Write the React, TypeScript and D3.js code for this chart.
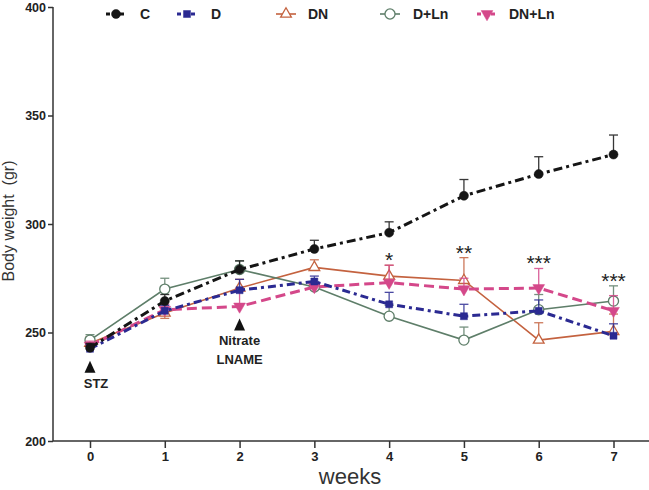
import React, { useEffect, useRef } from 'react';
import * as d3 from 'd3';

const weeks = [0, 1, 2, 3, 4, 5, 6, 7];
const seriesNames = ['C', 'D', 'DN', 'D+Ln', 'DN+Ln'];
const cMean = [243, 264.5, 279, 288.5, 296, 313, 323, 332];
const cErr = [2, 3, 4, 4, 5, 7.5, 8, 9];
const dMean = [242.5, 260, 269.5, 273.5, 263, 257.5, 260, 248.5];
const dErr = [2, 2.5, 5, 2.5, 5.5, 5.5, 5, 5.5];
const dnMean = [245, 259, 270.5, 280, 276, 274, 246.5, 250.5];
const dnErr = [3, -2.5, 4, 3.5, 5, 10.5, 8, 8];
const dlnMean = [246.5, 270, 279, 271, 257.5, 246.5, 260.5, 264.5];
const dlnErr = [2.5, 5, 4, 2, 5, 6, 7, 7];
const dnlnMean = [244, 260.5, 262, 271, 273, 270, 270.5, 260];
const dnlnErr = [2, 2.5, 8, 2, 8, 5, 9, 7];
const starWeeks = [4, 5, 6, 7];
const starLabels = ['*', '**', '***', '***'];
const treatWeeks = [0, 2];
const treatLabels = [['STZ'], ['Nitrate', 'LNAME']];
const yTicks = [200, 250, 300, 350, 400];

const W = 649;
const H = 490;
const FONT = "Arial, 'Liberation Sans', sans-serif";

const means = [cMean, dMean, dnMean, dlnMean, dnlnMean];
const errs = [cErr, dErr, dnErr, dlnErr, dnlnErr];
const colors = ['#151515', '#2b2a92', '#c4623f', '#5e7e69', '#d4488a'];
const widths = [3, 3, 1.6, 1.6, 3];
const dashes = ['9,4,3,4', '8,4,3,4', '', '', '10,5'];
const symbols = [d3.symbolCircle, d3.symbolSquare, d3.symbolTriangle, d3.symbolCircle, d3.symbolTriangle];
const symSizes = [64, 49, 50, 80, 60];
const symRot = [0, 0, 0, 0, 180];
const symFilled = [true, true, false, false, true];
const drawOrder = [2, 3, 4, 1, 0];
const legendSampleX = [116, 187, 286, 390, 487];
const legendTextX = [140, 211, 308, 413, 509];

export default function App() {
  const xRef = useRef<SVGGElement>(null);
  const yRef = useRef<SVGGElement>(null);

  const x = d3.scaleLinear().domain([0, 7]).range([90, 613.5]);
  const y = d3.scaleLinear().domain([200, 400]).range([441, 7]);
  const axisX0 = 53;

  useEffect(() => {
    const gx = d3.select(xRef.current as SVGGElement);
    gx.call(
      d3.axisBottom(x).tickValues(weeks).tickSize(7).tickPadding(4).tickFormat(d3.format('d')) as any
    );
    gx.select('.domain').remove();
    gx.selectAll('line').attr('stroke', '#333').attr('stroke-width', 1.5);
    gx.selectAll('text')
      .attr('font-size', 13)
      .attr('font-weight', 'bold')
      .attr('font-family', FONT)
      .attr('fill', '#222');

    const gy = d3.select(yRef.current as SVGGElement);
    gy.call(d3.axisLeft(y).tickValues(yTicks).tickSize(5).tickPadding(2) as any);
    gy.select('.domain').remove();
    gy.selectAll('line').attr('stroke', '#333').attr('stroke-width', 1.5);
    gy.selectAll('text')
      .attr('font-size', 12.5)
      .attr('font-weight', 'bold')
      .attr('font-family', FONT)
      .attr('fill', '#222');
  }, []);

  const line = (vals: number[]) =>
    d3
      .line<number>()
      .x((_, i) => x(weeks[i]))
      .y((v) => y(v))(vals) as string;

  const markerPath = (si: number) => d3.symbol().type(symbols[si]).size(symSizes[si])() as string;

  const renderMarker = (si: number, cx: number, cy: number, key: string) => (
    <path
      key={key}
      d={markerPath(si)}
      transform={`translate(${cx},${cy}) rotate(${symRot[si]})`}
      fill={symFilled[si] ? colors[si] : 'white'}
      stroke={colors[si]}
      strokeWidth={symFilled[si] ? 0.5 : 1.3}
    />
  );

  return (
    <svg
      width={W}
      height={H}
      style={{ position: 'absolute', left: 0, top: 0, background: 'white' }}
      fontFamily={FONT}
    >
      {/* axes */}
      <line x1={axisX0} x2={W} y1={y(200)} y2={y(200)} stroke="#333" strokeWidth={1.5} />
      <line x1={axisX0} x2={axisX0} y1={y(400)} y2={y(200)} stroke="#333" strokeWidth={1.5} />
      <g ref={xRef} transform={`translate(0,${y(200)})`} />
      <g ref={yRef} transform={`translate(${axisX0},0)`} />

      {/* axis titles */}
      <text x={350} y={484} textAnchor="middle" fontSize={22} fill="#333">
        weeks
      </text>
      <text
        transform={`translate(14,${221}) rotate(-90)`}
        textAnchor="middle"
        fontSize={16}
        fill="#333"
        style={{ whiteSpace: 'pre' }}
      >
        {'Body weight  (gr)'}
      </text>

      {/* series */}
      {drawOrder.map((si) => (
        <g key={seriesNames[si]}>
          {means[si].map((v, i) => {
            const e = errs[si][i];
            const cx = x(weeks[i]);
            const y0 = y(v);
            const y1 = y(v + e);
            return (
              <g key={i} stroke={colors[si]} strokeWidth={1.3} opacity={0.85}>
                <line x1={cx} x2={cx} y1={y0} y2={y1} />
                <line x1={cx - 4.5} x2={cx + 4.5} y1={y1} y2={y1} />
              </g>
            );
          })}
          <path
            d={line(means[si])}
            fill="none"
            stroke={colors[si]}
            strokeWidth={widths[si]}
            strokeDasharray={dashes[si] || undefined}
          />
          {means[si].map((v, i) => renderMarker(si, x(weeks[i]), y(v), `m${i}`))}
        </g>
      ))}

      {/* significance stars (placed above the diabetic groups) */}
      {starWeeks.map((wk, k) => {
        const top = d3.max(
          means.slice(1).map((m, j) => m[wk] + Math.max(0, errs[j + 1][wk]))
        ) as number;
        return (
          <text
            key={k}
            x={x(wk)}
            y={y(top) + 2}
            textAnchor="middle"
            fontSize={21}
            fill="#222"
          >
            {starLabels[k]}
          </text>
        );
      })}

      {/* treatment markers */}
      {treatWeeks.map((wk, k) => {
        const low = d3.min(means.map((m) => m[wk])) as number;
        const tip = y(low) + 12;
        const cx = x(wk);
        const dx = k === 0 ? 6 : 0;
        return (
          <g key={k}>
            <path d={`M${cx},${tip} L${cx + 5.5},${tip + 12} L${cx - 5.5},${tip + 12} Z`} fill="#111" />
            {treatLabels[k].map((t, j) => (
              <text
                key={j}
                x={cx + dx}
                y={tip + 27 + j * 19}
                textAnchor="middle"
                fontSize={13}
                fontWeight="bold"
                fill="#222"
              >
                {t}
              </text>
            ))}
          </g>
        );
      })}

      {/* legend */}
      {seriesNames.map((name, si) => {
        const lx = legendSampleX[si];
        const ly = 14;
        return (
          <g key={name}>
            <line
              x1={lx - 10}
              x2={lx + 10}
              y1={ly}
              y2={ly}
              stroke={colors[si]}
              strokeWidth={widths[si]}
              strokeDasharray={dashes[si] ? '4,3' : undefined}
            />
            {renderMarker(si, lx, ly, 'lm')}
            <text x={legendTextX[si]} y={ly + 5} fontSize={14} fontWeight="bold" fill="#222">
              {name}
            </text>
          </g>
        );
      })}
    </svg>
  );
}
